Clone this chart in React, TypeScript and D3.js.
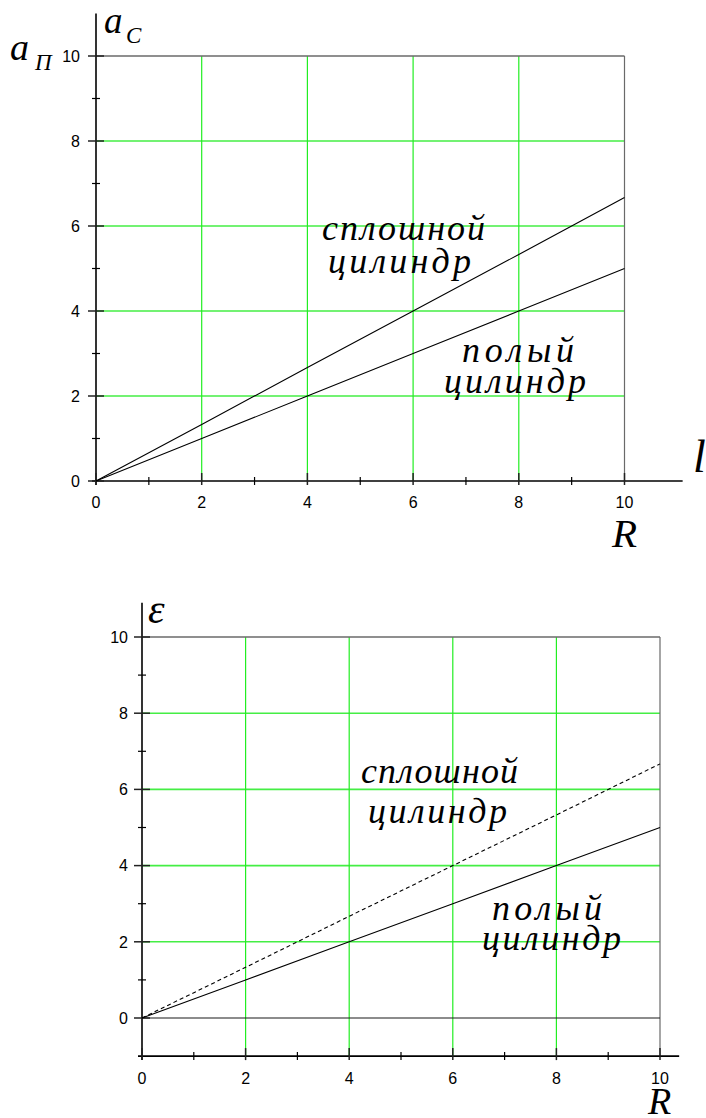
import React from "react";
import * as d3 from "d3";

// Radius values along the horizontal axis
const rValues = [0, 2, 4, 6, 8, 10];
// Solid cylinder (сплошной цилиндр)
const solidValues = [0, 1.33, 2.67, 4, 5.33, 6.67];
// Hollow cylinder (полый цилиндр)
const hollowValues = [0, 1, 2, 3, 4, 5];

const majorTicks = [0, 2, 4, 6, 8, 10];
const minorTicks = [1, 3, 5, 7, 9];
const gridTicks = [2, 4, 6, 8];
const tickLabels = ["0", "2", "4", "6", "8", "10"];

const W = 706;
const H = 1118;

const SANS = "'Liberation Sans', Arial, sans-serif";
const SERIF = "'Liberation Serif', 'Times New Roman', serif";

const HGRID = "#44ee44";
const VGRID = "#22ee22";
const BORDER = "#6a6a6a";

type PanelProps = {
  x: d3.ScaleLinear<number, number>;
  y: d3.ScaleLinear<number, number>;
  yMin: number; // where the horizontal axis sits
  xAxisEnd: number;
  yAxisTop: number;
  dashedSolid: boolean;
  zeroLine: boolean;
  labelX: number; // right edge for y tick labels
  xLabelDy: number;
};

function Panel({ x, y, yMin, xAxisEnd, yAxisTop, dashedSolid, zeroLine, labelX, xLabelDy }: PanelProps) {
  const x0 = x(0);
  const axisY = y(yMin);
  const line = d3
    .line<number>()
    .x((_, i) => x(rValues[i]))
    .y((d) => y(d));

  return (
    <g>
      {/* grid */}
      {gridTicks.map((t) => (
        <line key={"h" + t} x1={x0} x2={x(10)} y1={y(t)} y2={y(t)} stroke={HGRID} strokeWidth={1.6} />
      ))}
      {gridTicks.map((t) => (
        <line key={"v" + t} x1={x(t)} x2={x(t)} y1={axisY} y2={y(10)} stroke={VGRID} strokeWidth={1.2} />
      ))}
      {/* frame at 10 */}
      <line x1={x0} x2={x(10)} y1={y(10)} y2={y(10)} stroke={BORDER} strokeWidth={1.4} />
      <line x1={x(10)} x2={x(10)} y1={axisY} y2={y(10)} stroke={BORDER} strokeWidth={1.2} />
      {zeroLine && <line x1={x0} x2={x(10)} y1={y(0)} y2={y(0)} stroke="#1a1a1a" strokeWidth={1.2} />}

      {/* axes */}
      <line x1={x0 - 4} x2={xAxisEnd} y1={axisY} y2={axisY} stroke="#000" strokeWidth={1.6} />
      <line x1={x0} x2={x0} y1={axisY + 4} y2={yAxisTop} stroke="#000" strokeWidth={1.6} />

      {/* x ticks */}
      {majorTicks.map((t) => (
        <line key={"xm" + t} x1={x(t)} x2={x(t)} y1={axisY + 4} y2={axisY - 8} stroke="#222" strokeWidth={1.5} />
      ))}
      {minorTicks.map((t) => (
        <line key={"xn" + t} x1={x(t)} x2={x(t)} y1={axisY + 4} y2={axisY - 4} stroke="#000" strokeWidth={1.2} />
      ))}
      {/* y ticks */}
      {majorTicks.map((t) => (
        <line key={"ym" + t} x1={x0 - 8} x2={x0 + 8} y1={y(t)} y2={y(t)} stroke="#222" strokeWidth={1.5} />
      ))}
      {minorTicks.map((t) => (
        <line key={"yn" + t} x1={x0 - 4} x2={x0 + 4} y1={y(t)} y2={y(t)} stroke="#000" strokeWidth={1.2} />
      ))}

      {/* tick labels */}
      {majorTicks.map((t, i) => (
        <text key={"xl" + t} x={x(t)} y={axisY + xLabelDy} textAnchor="middle" fontFamily={SANS} fontSize={16} fill="#000">
          {tickLabels[i]}
        </text>
      ))}
      {majorTicks.map((t, i) => (
        <text key={"yl" + t} x={labelX} y={y(t) + 5.8} textAnchor="end" fontFamily={SANS} fontSize={16} fill="#000">
          {tickLabels[i]}
        </text>
      ))}

      {/* curves */}
      <path d={line(solidValues) || ""} fill="none" stroke="#000" strokeWidth={1.1} strokeDasharray={dashedSolid ? "4,3" : undefined} />
      <path d={line(hollowValues) || ""} fill="none" stroke="#000" strokeWidth={1.1} />
    </g>
  );
}

function Label({ x, y, text, len }: { x: number; y: number; text: string; len: number }) {
  return (
    <text x={x} y={y} fontFamily={SERIF} fontStyle="italic" fontSize={36} textLength={len} lengthAdjust="spacing" fill="#000">
      {text}
    </text>
  );
}

export default function App() {
  const xTop = d3.scaleLinear().domain([0, 10]).range([96, 624.5]);
  const yTop = d3.scaleLinear().domain([0, 10]).range([481, 56]);
  const xBot = d3.scaleLinear().domain([0, 10]).range([142, 660]);
  const yBot = d3.scaleLinear().domain([0, 10]).range([1018, 637]);

  return (
    <svg width={W} height={H} style={{ position: "absolute", left: 0, top: 0, display: "block", background: "#fff" }}>
      <rect width={W} height={H} fill="#fff" />
      <Panel x={xTop} y={yTop} yMin={0} xAxisEnd={xTop(11.1)} yAxisTop={yTop(11)} dashedSolid={false} zeroLine={false} labelX={80} xLabelDy={27} />
      <Panel x={xBot} y={yBot} yMin={-1} xAxisEnd={xBot(10.37)} yAxisTop={yBot(10.9)} dashedSolid={true} zeroLine={true} labelX={128} xLabelDy={28} />

      {/* top panel annotations */}
      <Label x={322} y={240} text="сплошной" len={163} />
      <Label x={328} y={273} text="цилиндр" len={143} />
      <Label x={462} y={362} text="полый" len={112} />
      <Label x={444} y={393} text="цилиндр" len={142} />

      {/* bottom panel annotations */}
      <Label x={361} y={783} text="сплошной" len={157} />
      <Label x={368} y={823} text="цилиндр" len={139} />
      <Label x={492} y={920} text="полый" len={110} />
      <Label x={482} y={950} text="цилиндр" len={139} />

      {/* axis titles */}
      <text x={104} y={33} fontFamily={SERIF} fontStyle="italic" fontSize={37} fill="#000">a</text>
      <text x={126} y={43} fontFamily={SERIF} fontStyle="italic" fontSize={23} fill="#000">C</text>
      <text x={10} y={60} fontFamily={SERIF} fontStyle="italic" fontSize={38} fill="#000">a</text>
      <text x={35} y={70} fontFamily={SERIF} fontStyle="italic" fontSize={23} fill="#000">П</text>
      <text x={612} y={547} fontFamily={SERIF} fontStyle="italic" fontSize={41} fill="#000">R</text>
      <text x={693} y={472} fontFamily={SERIF} fontStyle="italic" fontSize={46} fill="#000">l</text>
      <text x={148} y={623} fontFamily={SERIF} fontStyle="italic" fontSize={42} fill="#000">ε</text>
      <text x={648} y={1114} fontFamily={SERIF} fontStyle="italic" fontSize={38} fill="#000">R</text>
    </svg>
  );
}
